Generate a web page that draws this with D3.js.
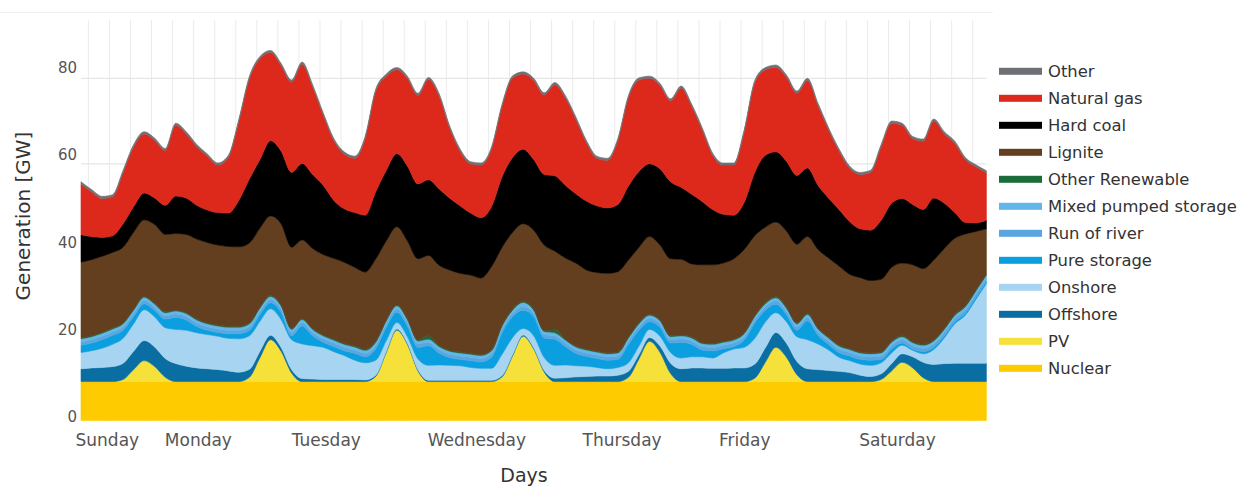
<!DOCTYPE html>
<html><head><meta charset="utf-8">
<script src="https://cdn.jsdelivr.net/npm/d3@7"></script>
<style>body{margin:0;background:#fff;} svg{display:block;font-family:"DejaVu Sans",Verdana,sans-serif;}</style>
</head><body><svg id="chart" width="1255" height="489"></svg>
<script>
// time axis (hours since Sunday 00:00)
const hours = [-1.4,0.6,2.6,4.6,6.6,8.6,10.6,12.6,14.6,16.6,18.6,20.6,22.6,24.6,26.6,28.6,30.6,32.6,34.6,36.6,38.6,40.6,42.6,44.6,46.6,48.6,50.6,52.6,54.6,56.6,58.6,60.6,62.6,64.6,66.6,68.6,70.6,72.6,74.6,76.6,78.6,80.6,82.6,84.6,86.6,88.6,90.6,92.6,94.6,96.6,98.6,100.6,102.6,104.6,106.6,108.6,110.6,112.6,114.6,116.6,118.6,120.6,122.6,124.6,126.6,128.6,130.6,132.6,134.6,136.6,138.6,140.6,142.6,144.6,146.6,148.6,150.6,152.6,154.6,156.6,158.6,160.6,162.6,164.6,166.6,168.6,170.6];

const nuclear = [9.1,9.1,9.1,9.1,9.1,9.1,9.1,9.1,9.1,9.1, 9.1,9.1,9.1,9.1,9.1,9.1,9.1,9.1,9.1,9.1, 9.1,9.1,9.1,9.1,9.1,9.1,9.1,9.1,9.1,9.1, 9.1,9.1,9.1,9.1,9.1,9.1,9.1,9.1,9.1,9.1, 9.1,9.1,9.1,9.1,9.1,9.1,9.1,9.1,9.1,9.1, 9.1,9.1,9.1,9.1,9.1,9.1,9.1,9.1,9.1,9.1, 9.1,9.1,9.1,9.1,9.1,9.1,9.1,9.1,9.1,9.1, 9.1,9.1,9.1,9.1,9.1,9.1,9.1,9.1,9.1,9.1, 9.1,9.1,9.1,9.1,9.1,9.1,9.1];
const pv = [0,0,0,0, 0.5,2.8,4.9,3.5,1.0, 0,0,0,0,0,0,0, 1.0,5.6,9.8,7.1,2.0, 0,0,0,0,0,0,0, 1.2,6.8,12.0,8.7,2.5, 0,0,0,0,0,0,0, 1.1,6.0,10.6,7.6,2.2, 0,0,0,0,0,0,0, 1.0,5.3,9.4,6.8,1.9, 0,0,0,0,0,0,0, 0.8,4.5,8.0,5.7,1.6, 0,0,0,0,0,0,0, 0.5,2.5,4.5,3.2,0.9, 0,0,0,0,0,0];
const offshore = [3.0,3.2,3.3,3.5,3.8,4.3,4.7,4.6,4.4,4.2, 3.6,3.2,3.0,2.8,2.5,2.2,1.9,1.5,1.0,0.9, 0.8,0.7,0.6,0.5,0.5,0.5,0.5,0.4,0.3,0.3, 0.3,0.3,0.3,0.3,0.3,0.3,0.3,0.3,0.3,0.3, 0.3,0.3,0.3,0.3,0.4,0.8,0.9,1.1,1.2,1.3, 1.3,1.5,1.4,1.0,0.9,1.5,2.4,3.0,3.2,3.2, 3.1,3.1,3.2,3.2,3.3,3.4,3.5,3.3,3.1,3.0, 2.8,2.6,2.4,2.1,1.5,1.2,1.3,1.7,2.0,2.6, 3.6,4.0,4.2,4.3,4.3,4.3,4.3];
const onshore = [3.8,4.0,4.5,5.2,5.8,6.4,7.2,7.0,7.2,8.0, 8.4,8.2,8.0,7.8,7.6,7.8,7.8,7.0,6.2,6.5, 7.0,8.1,7.8,7.5,6.5,5.6,4.5,4.0,3.5,2.5, 1.5,1.5,2.5,3.5,3.6,3.5,3.4,3.0,2.8,2.8, 5.0,4.0,1.5,2.8,3.0,3.0,3.0,2.6,2.4,2.0, 1.7,1.8,2.0,2.0,1.9,2.3,2.5,2.5,2.6,2.6, 2.4,3.6,4.4,4.8,6.0,6.0,4.6,5.0,5.8,6.8, 6.0,4.8,3.3,2.8,2.6,2.6,2.6,2.5,2.0,1.5, 2.0,3.5,6.0,9.2,11.2,14.9,18.6];
const pureStorage = [1.7,1.8,2.0,2.1,1.9,1.7,1.4,1.5,2.0,2.8, 2.4,1.5,1.0,0.9,1.1,1.2,1.3,1.6,1.4,1.7, 0.9,4.2,2.3,1.2,1.2,1.1,1.6,1.4,2.7,3.1, 2.4,2.5,2.7,4.6,2.8,1.8,1.5,1.6,1.5,2.6, 5.1,4.9,4.3,4.5,4.6,6.1,4.3,2.9,2.3,2.1, 2.0,1.9,4.3,3.7,1.8,2.1,2.2,3.7,2.9,1.6, 1.7,1.0,0.6,1.7,3.6,2.8,2.0,1.7,1.5,4.4, 2.0,1.3,1.1,1.1,1.1,1.2,0.8,1.0,0.5,0.3, 0.5,0.5,0.5,0.5,0.5,0.5,0.5];
const runOfRiver = [0.8,0.8,0.8,0.8,0.8,0.8,0.8,0.8,0.8,0.8, 0.8,0.8,0.8,0.8,0.8,0.8,0.8,0.8,0.8,0.8, 0.8,0.8,0.8,0.8,0.8,0.8,0.8,0.8,0.8,0.8, 0.8,0.8,0.8,0.8,0.8,0.8,0.8,0.8,0.8,0.8, 0.8,0.8,0.8,0.8,0.8,0.8,0.8,0.8,0.8,0.8, 0.8,0.8,0.8,0.8,0.8,0.8,0.8,0.8,0.8,0.8, 0.8,0.8,0.8,0.8,0.8,0.8,0.8,0.8,0.8,0.8, 0.8,0.8,0.8,0.8,0.8,0.8,0.8,0.8,0.8,0.8, 0.8,0.8,0.8,0.8,0.8,0.8,0.8];
const mixedPumped = [0.7,0.7,0.7,0.7,0.7,0.7,0.7,0.7,0.7,0.7, 0.7,0.7,0.7,0.7,0.7,0.7,0.7,0.7,0.7,0.7, 0.7,0.7,0.7,0.7,0.7,0.7,0.7,0.7,0.7,0.7, 0.7,0.7,0.7,0.7,0.7,0.7,0.7,0.7,0.7,0.7, 0.7,0.7,1.0,0.7,0.7,0.7,0.7,0.7,0.7,0.7, 0.7,0.7,0.7,0.7,0.7,0.7,0.7,0.7,0.7,0.7, 0.7,0.7,0.7,0.7,0.7,0.7,0.7,0.7,0.7,0.7, 0.7,0.7,0.7,0.7,0.7,0.7,0.7,0.7,0.7,0.7, 0.7,0.7,0.7,0.7,0.7,0.7,0.7];
const otherRenewable = [0.2,0.2,0.2,0.2,0.2,0.2,0.2,0.2,0.2,0.2, 0.2,0.2,0.2,0.2,0.2,0.2,0.2,0.2,0.2,0.2, 0.2,0.2,0.2,0.2,0.2,0.2,0.2,0.2,0.2,0.2, 0.2,0.2,0.2,0.8,0.2,0.2,0.2,0.2,0.2,0.2, 0.2,0.2,0.2,0.2,0.2,0.7,0.2,0.2,0.2,0.2, 0.2,0.2,0.2,0.2,0.2,0.2,0.2,0.2,0.2,0.2, 0.2,0.2,0.2,0.2,0.2,0.2,0.2,0.2,0.2,0.2, 0.2,0.2,0.2,0.2,0.2,0.2,0.2,0.2,0.2,0.2, 0.2,0.2,0.2,0.2,0.2,0.2,0.2];
const lignite = [17.7,17.8,17.8,17.7,17.7,18.0,17.9,18.4,18.1,17.9, 18.3,18.7,18.8,18.7,18.7,18.6,18.7,18.5,18.6,19.0, 19.0,18.4,18.7,18.8,18.9,19.0,18.4,18.1,19.3,18.5, 18.3,18.2,19.0,18.8,18.8,18.8,18.4,18.3,17.9,19.5, 18.2,18.0,18.2,18.5,20.0,18.4,19.0,19.4,18.5,18.4, 18.6,18.8,18.0,17.7,18.2,17.5,18.0,17.7,17.1,18.2, 18.4,18.3,18.8,19.5,18.7,17.7,17.5,17.8,18.4,18.0, 18.4,18.5,18.5,17.4,17.4,16.9,17.0,17.3,17.0,18.0, 17.7,18.7,18.7,17.8,16.8,13.7,10.6];
const hardCoal = [6.4,5.4,4.4,3.9,5.5,6.0,6.3,6.2,6.8,8.8, 8.5,7.9,7.6,7.6,7.8,10.9,15.0,16.0,17.6,17.0, 17.5,17.9,17.3,16.2,13.6,12.5,12.8,13.3,15.7,16.5, 17.1,17.5,17.5,17.7,17.9,16.8,15.8,14.5,14.1,14.0, 16.5,17.5,17.4,16.5,16.5,17.6,17.0,16.2,16.1,15.6, 15.3,15.7,17.3,17.7,17.0,17.8,18.0,16.8,16.3,14.8, 12.9,11.4,10.2,11.0,14.8,16.8,16.4,16.3,16.1,16.0, 15.0,14.0,13.2,12.3,11.4,11.8,13.8,15.0,15.1,14.1, 13.8,14.5,10.6,6.0,2.7,2.0,2.0];
const naturalGas = [11.9,10.5,9.1,9.1,12.0,14.0,13.8,13.5,12.8,16.5, 15.0,13.7,12.6,11.1,13.0,18.5,23.5,23.6,20.6,20.0, 21.1,23.2,20.5,16.5,14.0,12.8,12.7,18.0,23.5,22.0, 19.6,20.5,20.7,23.4,21.8,16.5,12.8,11.5,12.3,13.5, 16.5,18.6,17.6,18.5,18.6,21.3,20.5,17.5,13.7,11.1, 11.1,15.0,20.7,21.4,20.0,19.5,18.9,23.2,20.6,16.8, 12.7,11.5,11.7,16.5,21.0,20.0,19.8,19.7,19.2,20.5, 18.7,16.0,13.7,12.5,12.7,13.5,17.2,18.7,17.1,15.4, 16.0,18.0,16.2,16.2,14.7,13.1,11.1];
const other = [0.5,0.5,0.5,0.5,0.5,0.5,0.5,0.5,0.5,0.5, 0.5,0.5,0.5,0.5,0.5,0.5,0.5,0.5,0.5,0.5, 0.5,0.5,0.5,0.5,0.5,0.5,0.5,0.5,0.5,0.5, 0.5,0.5,0.5,0.5,0.5,0.5,0.5,0.5,0.5,0.5, 0.5,0.5,0.5,0.5,0.5,0.5,0.5,0.5,0.5,0.5, 0.5,0.5,0.5,0.5,0.5,0.5,0.5,0.5,0.5,0.5, 0.5,0.5,0.5,0.5,0.5,0.5,0.5,0.5,0.5,0.5, 0.5,0.5,0.5,0.5,0.5,0.5,0.5,0.5,0.5,0.5, 0.5,0.5,0.5,0.5,0.5,0.5,0.5];

const stackOrder = ["Nuclear","PV","Offshore","Onshore","Pure storage","Run of river","Mixed pumped storage","Other Renewable","Lignite","Hard coal","Natural gas","Other"];
const legendOrder = ["Other","Natural gas","Hard coal","Lignite","Other Renewable","Mixed pumped storage","Run of river","Pure storage","Onshore","Offshore","PV","Nuclear"];
const colors = {"Other":"#6e7074","Natural gas":"#dc291c","Hard coal":"#000000","Lignite":"#633f1f","Other Renewable":"#1c6b3a","Mixed pumped storage":"#62b6ea","Run of river":"#5aa6de","Pure storage":"#0c9fdf","Onshore":"#a7d4f0","Offshore":"#0a6ea2","PV":"#f6e13a","Nuclear":"#fdcb00"};
const dayLabels = ["Sunday","Monday","Tuesday","Wednesday","Thursday","Friday","Saturday"];
const dayTickHours = [3.6,20.9,45.2,73.8,101.4,124.7,153.7];
const yTicks = [0,20,40,60,80];
const gridHours = d3.range(0,169,4);

const seriesArrays = {"Nuclear":nuclear,"PV":pv,"Offshore":offshore,"Onshore":onshore,"Pure storage":pureStorage,"Run of river":runOfRiver,"Mixed pumped storage":mixedPumped,"Other Renewable":otherRenewable,"Lignite":lignite,"Hard coal":hardCoal,"Natural gas":naturalGas,"Other":other};
const table = hours.map((h,i)=>{const r={h}; stackOrder.forEach(k=>r[k]=seriesArrays[k][i]); return r;});
const stacked = d3.stack().keys(stackOrder)(table);

const svg = d3.select("#chart");
svg.append("rect").attr("width",1255).attr("height",489).attr("fill","#fff");
svg.append("line").attr("x1",0).attr("x2",993).attr("y1",12.5).attr("y2",12.5).attr("stroke","#f1f1f1");

const x = d3.scaleLinear().domain([-1.4,170.6]).range([81,986.4]);
const y = d3.scaleLinear().domain([0,93.6]).range([420.5,20.1]);
const yLab = d3.scaleLinear().domain([0,80]).range([417,68]);

// grid
svg.append("g").selectAll("line").data(gridHours).join("line")
  .attr("x1",d=>x(d)).attr("x2",d=>x(d)).attr("y1",y(93.6)).attr("y2",y(0))
  .attr("stroke","#ebebeb").attr("stroke-width",1);
svg.append("g").selectAll("line").data(yTicks.filter(d=>d>0)).join("line")
  .attr("x1",x(-1.4)).attr("x2",x(170.6)).attr("y1",d=>y(d)).attr("y2",d=>y(d))
  .attr("stroke","#e6e6e6").attr("stroke-width",1.2);

const area = d3.area().x(d=>x(d.data.h)).y0(d=>y(d[0])).y1(d=>y(d[1])).curve(d3.curveMonotoneX);
svg.append("g").selectAll("path").data(stacked).join("path")
  .attr("d",area).attr("fill",d=>colors[d.key]).attr("stroke",d=>colors[d.key]).attr("stroke-width",0.6);

// y tick labels
svg.append("g").selectAll("text").data(yTicks).join("text")
  .attr("x",77).attr("y",d=>yLab(d)).attr("text-anchor","end").attr("dominant-baseline","central")
  .attr("font-size",15).attr("fill","#555").text(d=>d);
// x day labels
svg.append("g").selectAll("text").data(dayLabels).join("text")
  .attr("x",(d,i)=>x(dayTickHours[i])).attr("y",446).attr("text-anchor","middle")
  .attr("font-size",17).attr("fill","#555").text(d=>d);
// titles
svg.append("text").attr("x",524).attr("y",482).attr("text-anchor","middle").attr("font-size",19).attr("fill","#333").text("Days");
svg.append("text").attr("transform","translate(23,216) rotate(-90)").attr("text-anchor","middle").attr("dominant-baseline","central")
  .attr("font-size",20).attr("fill","#333").text("Generation [GW]");

// legend
const lg = svg.append("g").selectAll("g").data(legendOrder).join("g")
  .attr("transform",(d,i)=>`translate(999,${71.3+27*i})`);
lg.append("rect").attr("x",0).attr("y",-3.5).attr("width",43).attr("height",7).attr("fill",d=>colors[d]);
lg.append("text").attr("x",49).attr("y",0).attr("dominant-baseline","central").attr("font-size",16.4).attr("fill","#333").text(d=>d);
</script></body></html>
